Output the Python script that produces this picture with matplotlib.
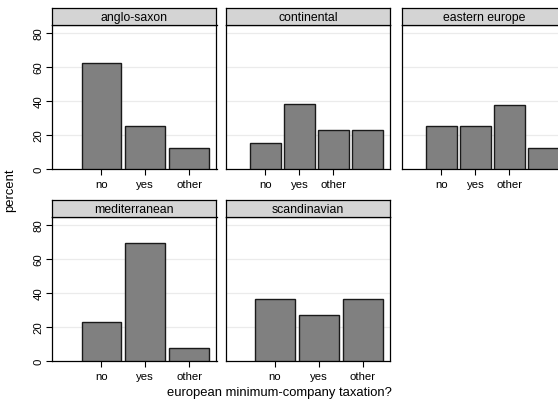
import matplotlib.pyplot as plt

plt.rcParams['font.family'] = ['Liberation Sans', 'DejaVu Sans']

# data (percent of respondents per answer)
answers = ["no", "yes", "other"]
regions = ["anglo-saxon", "continental", "eastern europe", "mediterranean", "scandinavian"]
anglo_saxon = [62.5, 25.0, 12.5]
continental = [15.38, 38.46, 23.08, 23.08]
eastern_europe = [25.0, 25.0, 37.5, 12.5]
mediterranean = [23.08, 69.23, 7.69]
scandinavian = [36.36, 27.27, 36.36]
yticks = [0, 20, 40, 60, 80]

values = [anglo_saxon, continental, eastern_europe, mediterranean, scandinavian]

W, H = 558, 402
fig = plt.figure(figsize=(W / 100, H / 100), dpi=100)

col_left = [52, 225.7, 401.7]
col_w = 164.5
row_top = [9, 201]     # top of strip
strip_h = 17
plot_h = 144


def px_box(x0, y0, w, h):
    # pixel box (top-left origin) -> figure fraction
    return [x0 / W, 1 - (y0 + h) / H, w / W, h / H]


bar_color = "#808080"
edge_color = "#1a1a1a"

for i, (name, vals) in enumerate(zip(regions, values)):
    r, c = divmod(i, 3)
    x0 = col_left[c]
    y0 = row_top[r]

    ax = fig.add_axes(px_box(x0, y0 + strip_h, col_w, plot_h))
    xs = list(range(1, len(vals) + 1))
    ax.bar(xs, vals, width=0.9, color=bar_color, edgecolor=edge_color,
           linewidth=1.0, zorder=3)

    if len(vals) == 3:
        ax.set_xlim(-0.125, 3.625)
    else:
        ax.set_xlim(-0.17, 4.67)
    ax.set_ylim(0, 84.6)

    ax.set_xticks(range(1, len(answers) + 1))
    ax.set_xticklabels(answers, fontsize=8.2)
    ax.set_yticks(yticks)
    for y in yticks[1:]:
        ax.axhline(y, color="#ebebeb", linewidth=0.9, zorder=1)

    if c == 0:
        ax.set_yticklabels([str(t) for t in yticks], rotation=90, va="center",
                           fontsize=8.2)
        ax.tick_params(axis="y", length=4, width=0.8, pad=2)
    else:
        ax.tick_params(axis="y", length=0, labelleft=False)
    ax.tick_params(axis="x", length=4, width=0.8, pad=3)

    for s in ax.spines.values():
        s.set_linewidth(0.9)
        s.set_color("black")

    sax = fig.add_axes(px_box(x0, y0, col_w, strip_h))
    sax.set_facecolor("#d4d4d4")
    sax.set_xticks([])
    sax.set_yticks([])
    for s in sax.spines.values():
        s.set_linewidth(0.9)
        s.set_color("black")
    sax.text(0.5, 0.3, name, ha="center", va="baseline", fontsize=8.8,
             transform=sax.transAxes)

fig.text(10 / W, 1 - 190 / H, "percent", rotation=90, ha="center", va="center",
         fontsize=9.4)
fig.text(279 / W, 1 - 393 / H, "european minimum-company taxation?",
         ha="center", va="center", fontsize=9.4)

fig.savefig("out.png", dpi=100, facecolor="white")
